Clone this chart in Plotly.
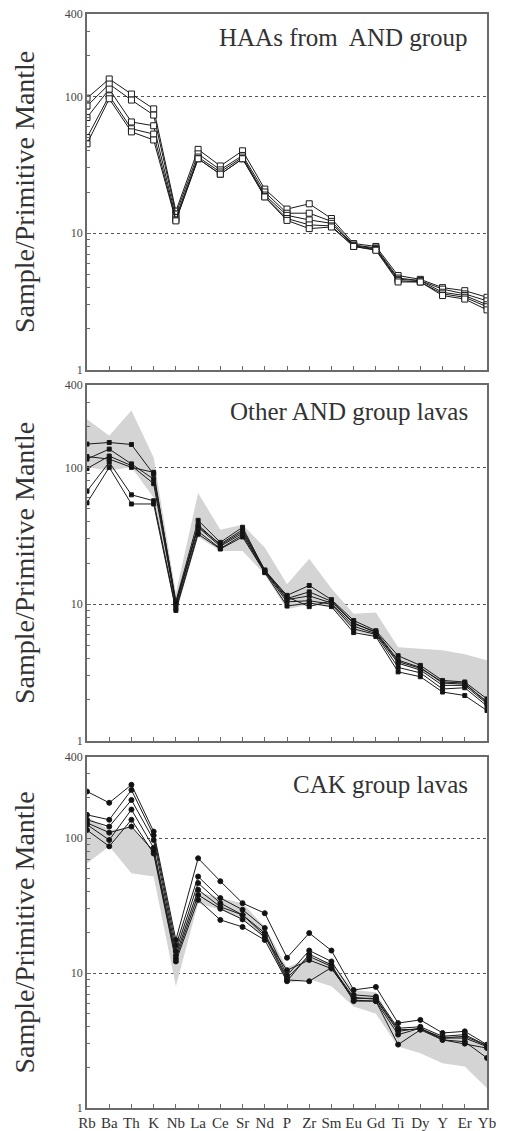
import plotly.graph_objects as go

categories = ["Rb", "Ba", "Th", "K", "Nb", "La", "Ce", "Sr", "Nd", "P", "Zr",
              "Sm", "Eu", "Gd", "Ti", "Dy", "Y", "Er", "Yb"]

# Panel 1: HAAs from AND group
haa_1 = [97, 134, 104, 81, 14.5, 41, 31, 40, 21, 15, 16.4, 12.8, 8.4, 8.0, 4.9, 4.6, 4.0, 3.8, 3.4]
haa_2 = [85, 123, 94, 73, 13.8, 38, 29, 37, 20, 14, 14, 12.2, 8.2, 7.8, 4.7, 4.5, 3.9, 3.6, 3.2]
haa_3 = [70, 113, 65, 61, 13, 36, 28, 36, 19, 13.5, 12.5, 11.8, 8.1, 7.7, 4.6, 4.5, 3.7, 3.5, 3.0]
haa_4 = [50, 101, 58, 53, 12.5, 35, 27, 35, 18.5, 12.8, 11.5, 11.3, 8.0, 7.6, 4.5, 4.4, 3.6, 3.4, 2.9]
haa_5 = [45, 96, 55, 48, 12.3, 35, 27, 35, 18.4, 12.4, 10.8, 11.1, 8.0, 7.5, 4.4, 4.4, 3.5, 3.3, 2.75]

# Panel 2: Other AND group lavas
oth_1 = [148, 152, 147, 89, 10.5, 41, 28.3, 36.5, 17.6, 11.6, 13.7, 10.8, 7.6, 6.4, 4.2, 3.57, 2.77, 2.7, 2.03]
oth_2 = [115, 136, 106, 82, 10, 38, 27, 34, 17.6, 11, 12.3, 10.5, 7.2, 6.3, 3.9, 3.45, 2.65, 2.6, 1.95]
oth_3 = [98, 121, 103, 76, 9.8, 36.5, 26.5, 33, 17.4, 10.8, 11.5, 10.2, 6.9, 6.1, 3.7, 3.3, 2.55, 2.55, 1.87]
oth_4 = [67, 109, 63, 57, 9.3, 34, 25.5, 32, 17.2, 10.4, 10.6, 10.0, 6.6, 6.0, 3.45, 3.15, 2.4, 2.45, 1.8]
oth_5 = [55, 100, 54, 54, 9.0, 32.5, 25.3, 31, 17.0, 9.7, 10.2, 9.6, 6.2, 5.8, 3.2, 2.95, 2.28, 2.15, 1.67]
oth_6 = [120, 115, 100, 92, 10.2, 37, 27.5, 35, 17.8, 11.3, 9.6, 10.6, 7.3, 6.2, 3.8, 3.4, 2.7, 2.65, 1.9]
oth_band_upper = [225, 170, 260, 118, 12, 65, 35, 38, 26, 14, 21.5, 13, 8.5, 8.7, 4.85, 4.7, 4.6, 4.3, 3.9]
oth_band_lower = [100, 95, 100, 60, 8.5, 31, 24.5, 24.5, 16.5, 9.2, 10, 9.5, 6.4, 5.8, 3.7, 3.3, 2.6, 2.6, 2.0]

# Panel 3: CAK group lavas
cak_1 = [222, 183, 249, 112, 17.6, 71, 48, 33, 27.8, 13, 19.8, 14.7, 7.5, 7.9, 4.26, 4.5, 3.6, 3.7, 2.95]
cak_2 = [149, 137, 228, 105, 16, 52, 36, 29.5, 21.6, 9.6, 14.7, 12.2, 6.9, 6.7, 3.9, 4.0, 3.4, 3.5, 2.9]
cak_3 = [137, 122, 192, 97, 14.5, 46.5, 33, 27, 19.8, 9.2, 13.3, 11.2, 6.6, 6.4, 3.7, 3.9, 3.3, 3.3, 2.85]
cak_4 = [126, 97, 163, 85, 13.5, 41.5, 31, 27, 19, 8.9, 8.7, 11.0, 6.3, 6.2, 2.95, 3.8, 3.2, 3.0, 2.78]
cak_5 = [115, 87, 137, 77, 12.2, 34.9, 24.8, 22, 17.6, 8.7, 13.8, 11.5, 6.2, 6.2, 3.5, 3.9, 3.2, 3.1, 2.35]
cak_6 = [130, 110, 122, 80, 12.8, 38, 30, 25, 18.5, 10.5, 12.5, 10.8, 6.5, 6.5, 3.8, 3.85, 3.3, 3.4, 2.9]
cak_band_upper = [145, 115, 120, 81, 17, 40, 36, 33, 22, 11, 13, 12, 7.5, 7.2, 3.7, 3.7, 3.5, 3.4, 3.0]
cak_band_lower = [65, 87, 55, 52, 8, 33, 29.5, 25, 18, 8.4, 9, 8, 5.65, 5.0, 2.86, 2.55, 2.15, 2.03, 1.4]

panel_titles = ["HAAs from  AND group", "Other AND group lavas", "CAK group lavas"]
y_title = "Sample/Primitive Mantle"
y_tickvals = [1, 10, 100, 400]
y_ticktext = ["1", "10", "100", "400"]
y_minor = [2, 3, 4, 5, 6, 7, 8, 9, 20, 30, 40, 50, 60, 70, 80, 90, 200, 300]

# the page body adds an 8 px margin, so the figure is drawn 8 px smaller
OFF = 8
W, H = 507 - OFF, 1131 - OFF
SERIF = "Liberation Serif, Times New Roman, serif"
BAND = "#d4d4d4"
AXC = "#6a6a6a"

fig = go.Figure()

def add_band(upper, lower, ax):
    fig.add_trace(go.Scatter(
        x=categories + categories[::-1], y=upper + lower[::-1],
        fill="toself", fillcolor=BAND, line=dict(width=0), mode="lines",
        hoverinfo="skip", showlegend=False, xaxis="x" + ax, yaxis="y" + ax))

def add_line(vals, ax, symbol, fillc, size):
    fig.add_trace(go.Scatter(
        x=categories, y=vals, mode="lines+markers",
        line=dict(color="#1a1a1a", width=1),
        marker=dict(symbol=symbol, size=size, color=fillc,
                    line=dict(color="#1a1a1a", width=1)),
        showlegend=False, xaxis="x" + ax, yaxis="y" + ax))

for s in [haa_1, haa_2, haa_3, haa_4, haa_5]:
    add_line(s, "", "square", "white", 6)

add_band(oth_band_upper, oth_band_lower, "2")
for s in [oth_1, oth_2, oth_3, oth_4, oth_5, oth_6]:
    add_line(s, "2", "square", "#111111", 4)

add_band(cak_band_upper, cak_band_lower, "3")
for s in [cak_1, cak_2, cak_3, cak_4, cak_5, cak_6]:
    add_line(s, "3", "circle", "#111111", 5)

# panel geometry in page pixels (top, bottom)
panels = [(14, 370), (385, 741), (757, 1108)]
xdom = [(87 - OFF) / W, (487 - OFF) / W]

def ydom(top, bot):
    return [1 - (bot - OFF) / H, 1 - (top - OFF) / H]

common_x = dict(type="category", range=[0, len(categories) - 1], showline=True,
                linecolor=AXC, linewidth=1.5, mirror=True, ticks="inside",
                ticklen=4, tickcolor=AXC, showgrid=False, domain=xdom,
                automargin=False, ticklabeloverflow="allow",
                tickfont=dict(family=SERIF, size=15, color="#333333"))
common_y = dict(type="log", range=[0, 2.60206], showline=True, linecolor=AXC,
                linewidth=1.5, mirror=True, ticks="inside", ticklen=4,
                tickcolor=AXC, tickmode="array", tickvals=y_tickvals,
                ticktext=y_ticktext, showgrid=True, gridcolor="#555555",
                griddash="dot", gridwidth=1, zeroline=False, automargin=False,
                ticklabeloverflow="allow",
                tickfont=dict(family=SERIF, size=12, color="#444444"),
                minor=dict(ticks="inside", ticklen=3, tickcolor=AXC,
                           tickmode="array", tickvals=y_minor, showgrid=False))

layout = dict(width=W, height=H,
              margin=dict(l=0, r=0, t=0, b=0, pad=0, autoexpand=False),
              plot_bgcolor="white", paper_bgcolor="white", showlegend=False)
names = ["", "2", "3"]
for i, (nm, (top, bot)) in enumerate(zip(names, panels)):
    xa = dict(common_x)
    xa["anchor"] = "y" + nm
    xa["showticklabels"] = (i == 2)
    ya = dict(common_y)
    ya["anchor"] = "x" + nm
    ya["domain"] = ydom(top, bot)
    layout["xaxis" + nm] = xa
    layout["yaxis" + nm] = ya

annotations = []
title_tops = [22, 396, 769]
for (top, bot), t, tt in zip(panels, panel_titles, title_tops):
    annotations.append(dict(text=t, x=(470 - OFF) / W, y=1 - (tt - OFF) / H,
                            xref="paper", yref="paper", xanchor="right",
                            yanchor="top", showarrow=False,
                            font=dict(family=SERIF, size=25, color="#333333")))
    annotations.append(dict(text=y_title, x=(24 - OFF) / W,
                            y=1 - ((top + bot) / 2 - OFF) / H,
                            xref="paper", yref="paper", xanchor="center",
                            yanchor="middle", textangle=-90, showarrow=False,
                            font=dict(family=SERIF, size=28, color="#333333")))
layout["annotations"] = annotations

fig.update_layout(**layout)
fig.write_html("out.html")
